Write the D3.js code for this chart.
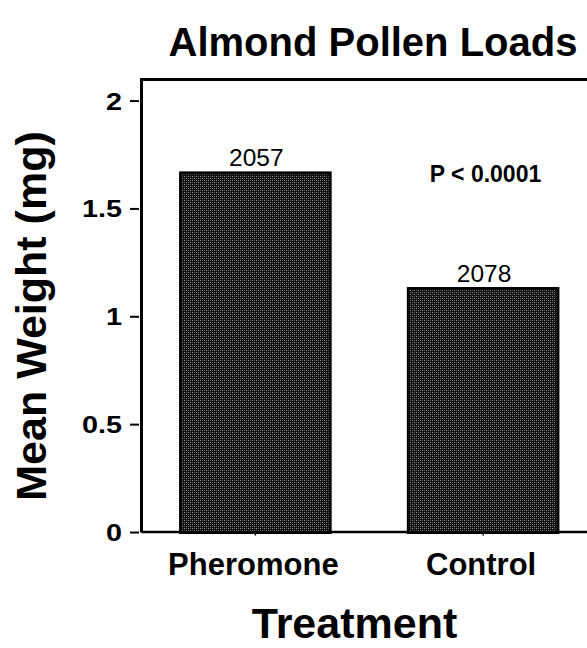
<!DOCTYPE html>
<html><head><meta charset="utf-8">
<script src="https://cdn.jsdelivr.net/npm/d3@7"></script>
<style>body{margin:0;background:#fff}svg{display:block}text{font-family:"Liberation Sans",Arial,sans-serif}</style>
</head><body>
<svg id="c" width="587" height="648"></svg>
<script>
const categories = ["Pheromone", "Control"];
const values = [1.674, 1.138];
const barLabels = ["2057", "2078"];
const yTicks = [0, 0.5, 1, 1.5, 2];
const yTickLabels = ["0", "0.5", "1", "1.5", "2"];
const title = "Almond Pollen Loads";
const yTitle = "Mean Weight (mg)";
const xTitle = "Treatment";
const pLabel = "P < 0.0001";

const svg = d3.select("#c");
const pLeft = 141.5, pRight = 597, pTop = 79.5, pBottom = 532.5;

const defs = svg.append("defs");
const pat = defs.append("pattern").attr("id", "hatch").attr("patternUnits", "userSpaceOnUse")
  .attr("width", 4).attr("height", 4);
pat.append("rect").attr("width", 4).attr("height", 4).attr("fill", "#111");
pat.append("rect").attr("x", 0).attr("y", 0).attr("width", 1).attr("height", 1).attr("fill", "#9a9a9a");
pat.append("rect").attr("x", 2).attr("y", 2).attr("width", 1).attr("height", 1).attr("fill", "#9a9a9a");
pat.append("rect").attr("x", 2).attr("y", 0).attr("width", 1).attr("height", 1).attr("fill", "#555");
pat.append("rect").attr("x", 0).attr("y", 2).attr("width", 1).attr("height", 1).attr("fill", "#555");

const x = d3.scaleBand().domain(categories).range([pLeft, pRight]).paddingInner(0.33).paddingOuter(0.165);
const y = d3.scaleLinear().domain([0, 2.1]).range([pBottom, pTop]);

// bars
svg.selectAll("rect.bar").data(values).join("rect").attr("class", "bar")
  .attr("x", (d, i) => x(categories[i]) + 1.5)
  .attr("width", x.bandwidth() - 3)
  .attr("y", d => y(d) + 1.5)
  .attr("height", d => pBottom - y(d) - 1.5)
  .attr("fill", "url(#hatch)").attr("stroke", "#000").attr("stroke-width", 3);

// frame
svg.append("path").attr("d", `M${pLeft},${pBottom}V${pTop}H${pRight}`).attr("fill", "none")
  .attr("stroke", "#000").attr("stroke-width", 3);
svg.append("path").attr("d", `M${pLeft},${pBottom - 0.5}H${pRight}`).attr("fill", "none")
  .attr("stroke", "#000").attr("stroke-width", 2.5);

// y ticks
yTicks.forEach((t, i) => {
  const yy = y(t);
  svg.append("line").attr("x1", 130).attr("x2", 139).attr("y1", yy).attr("y2", yy)
    .attr("stroke", "#000").attr("stroke-width", 2);
  svg.append("text").attr("transform", `translate(122,${yy + 8.5}) scale(1.2,1)`)
    .attr("text-anchor", "end").attr("font-weight", "bold").attr("font-size", 24)
    .text(yTickLabels[i]);
});

// x ticks & labels
categories.forEach((c, i) => {
  const cx = x(c) + x.bandwidth() / 2;
  svg.append("line").attr("x1", cx).attr("x2", cx).attr("y1", pBottom).attr("y2", pBottom + 3)
    .attr("stroke", "#000").attr("stroke-width", 1.5);
  svg.append("text").attr("x", cx - 2).attr("y", 575).attr("text-anchor", "middle")
    .attr("font-weight", "bold").attr("font-size", 31).text(c);
  svg.append("text").attr("x", cx + 1).attr("y", y(values[i]) - 5.5).attr("text-anchor", "middle")
    .attr("font-size", 24.5).text(barLabels[i]);
});

svg.append("text").attr("x", 485.5).attr("y", 181.7).attr("text-anchor", "middle")
  .attr("font-weight", "bold").attr("font-size", 23).text(pLabel);

svg.append("text").attr("x", 373).attr("y", 56).attr("text-anchor", "middle")
  .attr("font-weight", "bold").attr("font-size", 40).text(title);

svg.append("text").attr("x", 354.5).attr("y", 638).attr("text-anchor", "middle")
  .attr("font-weight", "bold").attr("font-size", 43).text(xTitle);

svg.append("text").attr("transform", "translate(46,316) rotate(-90)").attr("text-anchor", "middle")
  .attr("font-weight", "bold").attr("font-size", 43).text(yTitle);
</script>
</body></html>
